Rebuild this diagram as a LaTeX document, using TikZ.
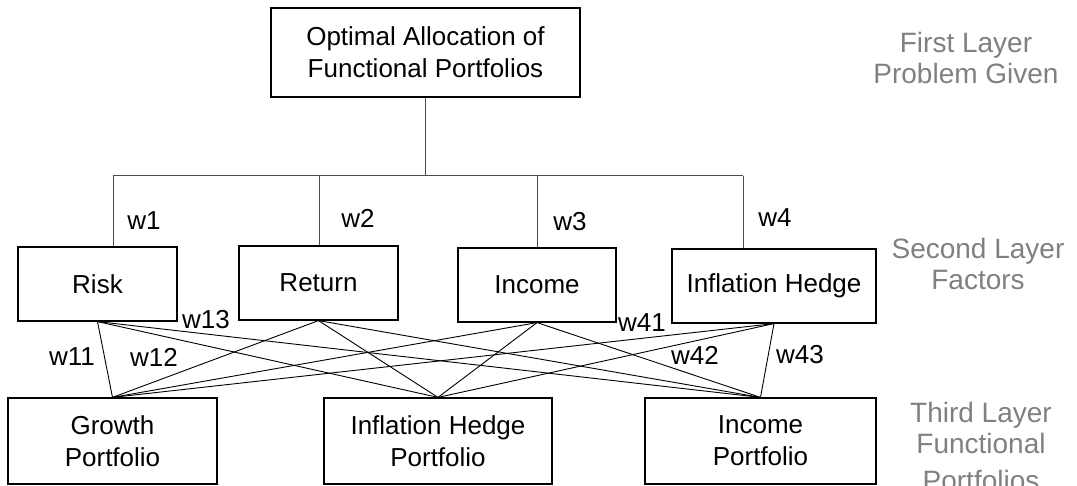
\documentclass[tikz,border=0pt]{standalone}
\usepackage{fontspec}
\setmainfont{Liberation Sans}
\definecolor{layergray}{RGB}{128,128,128}

\begin{document}
\begin{tikzpicture}[
  x=0.5pt, y=-0.5pt,
  box/.style={draw, line width=0.6pt, align=center, inner sep=0pt,
    font=\fontsize{13}{16}\selectfont},
  tree line/.style={line width=0.5pt, draw=black!70},
  cross line/.style={line width=0.45pt},
  weight/.style={inner sep=0pt, font=\fontsize{13}{16}\selectfont},
  layer/.style={align=center, inner sep=0pt, text=layergray,
    font=\fontsize{14}{15.5}\selectfont},
]
  \useasboundingbox (0,0) rectangle (1077,486);

  % Top problem box
  \node[box, minimum width=154.5pt, minimum height=44.5pt] (alloc) at (425.5,52.5)
    {Optimal Allocation of\\Functional Portfolios};

  % Factor boxes, node names: fac1, fac2, ...
  \foreach \t/\x/\y/\w [count=\i] in {
    Risk/97.5/284/79.5, Return/318.5/283/79.5,
    Income/537/285/79, Inflation Hedge/774/286/102} {
    \node[box, minimum width=\w pt, minimum height=37pt] (fac\i) at (\x,\y) {\t};
  }

  % Portfolio boxes, node names: port1, port2, ...
  \foreach \t/\x/\w [count=\i] in {
    Growth\\Portfolio/112.5/104.5, Inflation Hedge\\Portfolio/438/114,
    Income\\Portfolio/760.5/115.5} {
    \node[box, minimum width=\w pt, minimum height=43pt] (port\i) at (\x,441) {\t};
  }

  % Tree from the problem to the factors
  \coordinate (fork) at (425.5,176);
  \draw[tree line] (alloc) -- (fork);
  \foreach \x [count=\i] in {113, 319, 537, 743} {
    \coordinate (drop\i) at (\x,176);
    \draw[tree line] (drop\i) -- (drop\i |- fac\i.north);
  }
  \draw[tree line] (drop1) -- (drop4);

  % Every factor to every portfolio
  \foreach \i in {1, ..., 4} {
    \foreach \j in {1, 2, 3} {
      \draw[cross line] (fac\i.south) -- (port\j.north);
    }
  }

  % Weights
  \foreach \t/\x/\y in {w1/144/221, w2/358/218, w3/570/222, w4/775/218,
    w11/72/357, w12/154/357, w13/206/320,
    w41/642/323, w42/695/355, w43/800/355} {
    \node[weight] (\t) at (\x,\y) {\t};
  }

  % Layer captions
  \node[layer] (layer1) at (966,58) {First Layer\\Problem Given};
  \node[layer] (layer2) at (978,264) {Second Layer\\Factors};
  \node[layer] (layer3) at (981,446) {Third Layer\\Functional\\[3pt]Portfolios};
\end{tikzpicture}
\end{document}
